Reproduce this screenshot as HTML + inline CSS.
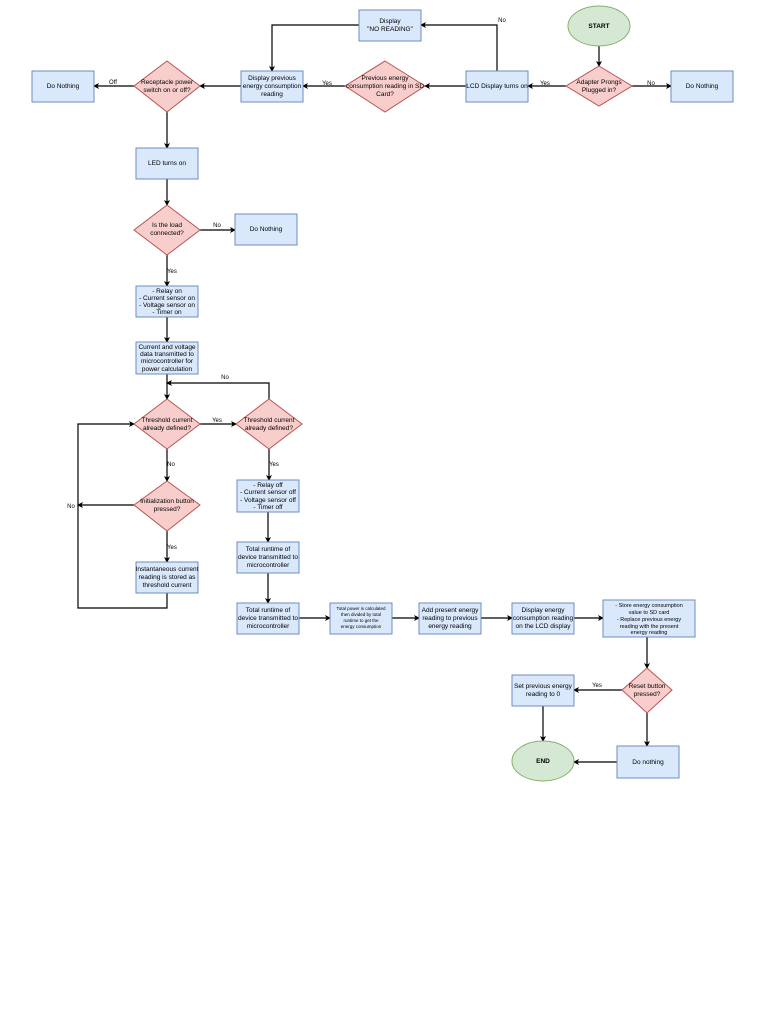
<!DOCTYPE html>
<html><head><meta charset="utf-8"><style>
html,body{margin:0;padding:0;background:#fff;}
svg{display:block;}
text{font-family:"Liberation Sans",Arial,sans-serif;font-size:6.5px;fill:#000;text-anchor:middle;}
.b{fill:#dae8fc;stroke:#6c8ebf;stroke-width:1;}
.d{fill:#f8cecc;stroke:#b85450;stroke-width:1;}
.e{fill:#d5e8d4;stroke:#82b366;stroke-width:1;}
.l{fill:none;stroke:#000;stroke-width:1.2;marker-end:url(#a);}
.lab{font-size:6px;}
</style></head><body>
<svg width="768" height="1024" viewBox="0 0 768 1024" xmlns="http://www.w3.org/2000/svg">
<defs><marker id="a" markerWidth="6" markerHeight="6" refX="5" refY="3" orient="auto" markerUnits="userSpaceOnUse"><path d="M0,0 L6,3 L0,6 L1.5,3 z" fill="#000"/></marker></defs>

<!-- connectors -->
<path class="l" d="M599,46 V66"/>
<path class="l" d="M632,86 H671"/>
<path class="l" d="M566,86 H528"/>
<path class="l" d="M466,86 H425"/>
<path class="l" d="M497,71 V25 H421"/>
<path class="l" d="M359,25 H272 V71"/>
<path class="l" d="M345,86 H303"/>
<path class="l" d="M241,86 H200"/>
<path class="l" d="M134,86 H94"/>
<path class="l" d="M167,112 V148"/>
<path class="l" d="M167,179 V205"/>
<path class="l" d="M200,230 H235"/>
<path class="l" d="M167,255 V286"/>
<path class="l" d="M167,317 V342"/>
<path class="l" d="M167,374 V399"/>
<path class="l" d="M200,424 H236"/>
<path class="l" d="M269,399 V383 H167"/>
<path class="l" d="M167,449 V481"/>
<path class="l" d="M134,505 H78"/>
<path class="l" d="M167,531 V562"/>
<path class="l" d="M167,593 V608 H78 V424 H134"/>
<path class="l" d="M269,449 V480"/>
<path class="l" d="M268,512 V542"/>
<path class="l" d="M268,573 V603"/>
<path class="l" d="M299,618 H330"/>
<path class="l" d="M392,618 H419"/>
<path class="l" d="M481,618 H512"/>
<path class="l" d="M574,618 H603"/>
<path class="l" d="M647,637 V668"/>
<path class="l" d="M622,690 H574"/>
<path class="l" d="M543,706 V741"/>
<path class="l" d="M647,713 V746"/>
<path class="l" d="M617,762 H574"/>

<!-- edge labels -->
<text class="lab" x="651" y="85">No</text>
<text class="lab" x="545" y="85">Yes</text>
<text class="lab" x="502" y="22">No</text>
<text class="lab" x="327" y="85">Yes</text>
<text class="lab" x="113" y="84">Off</text>
<text class="lab" x="217" y="227">No</text>
<text class="lab" x="172" y="273">Yes</text>
<text class="lab" x="217" y="422">Yes</text>
<text class="lab" x="225" y="379">No</text>
<text class="lab" x="171" y="466">No</text>
<text class="lab" x="71" y="508">No</text>
<text class="lab" x="172" y="549">Yes</text>
<text class="lab" x="274" y="466">Yes</text>
<text class="lab" x="597" y="687">Yes</text>

<!-- shapes -->
<ellipse class="e" cx="599" cy="26" rx="31" ry="20"/>
<text x="599" y="28" style="font-weight:bold">START</text>
<polygon class="d" points="599,66 632,86 599,106 566,86"/>
<text x="599" y="84">Adapter Prongs</text><text x="599" y="92">Plugged in?</text>
<rect class="b" x="671" y="71" width="62" height="31"/><text x="702" y="88">Do Nothing</text>
<rect class="b" x="466" y="71" width="62" height="31"/><text x="497" y="88">LCD Display turns on</text>
<polygon class="d" points="385,61 425,86 385,112 345,86"/>
<text x="385" y="80">Previous energy</text><text x="385" y="88">consumption reading in SD</text><text x="385" y="96">Card?</text>
<rect class="b" x="359" y="10" width="62" height="31"/><text x="390" y="23">Display</text><text x="390" y="31">"NO READING"</text>
<rect class="b" x="241" y="71" width="62" height="31"/><text x="272" y="80">Display previous</text><text x="272" y="88">energy consumption</text><text x="272" y="96">reading</text>
<polygon class="d" points="167,61 200,86 167,112 134,86"/>
<text x="167" y="84">Receptacle power</text><text x="167" y="92">switch on or off?</text>
<rect class="b" x="32" y="71" width="62" height="31"/><text x="63" y="88">Do Nothing</text>
<rect class="b" x="136" y="148" width="62" height="31"/><text x="167" y="165">LED turns on</text>
<polygon class="d" points="167,205 200,230 167,255 134,230"/>
<text x="167" y="227">Is the load</text><text x="167" y="235">connected?</text>
<rect class="b" x="235" y="214" width="62" height="31"/><text x="266" y="231">Do Nothing</text>
<rect class="b" x="136" y="286" width="62" height="31"/>
<text x="167" y="293">- Relay on</text><text x="167" y="300">- Current sensor on</text><text x="167" y="307">- Voltage sensor on</text><text x="167" y="314">- Timer on</text>
<rect class="b" x="136" y="342" width="62" height="32"/>
<text x="167" y="349">Current and voltage</text><text x="167" y="356">data transmitted to</text><text x="167" y="363">microcontroller for</text><text x="167" y="371">power calculation</text>
<polygon class="d" points="167,399 200,424 167,449 134,424"/>
<text x="167" y="422">Threshold current</text><text x="167" y="430">already defined?</text>
<polygon class="d" points="269,399 302,424 269,449 236,424"/>
<text x="269" y="422">Threshold current</text><text x="269" y="430">already defined?</text>
<polygon class="d" points="167,481 200,505 167,531 134,505"/>
<text x="167" y="503">Initialization button</text><text x="167" y="511">pressed?</text>
<rect class="b" x="136" y="562" width="62" height="31"/>
<text x="167" y="571">Instantaneous current</text><text x="167" y="579">reading is stored as</text><text x="167" y="587">threshold current</text>
<rect class="b" x="237" y="480" width="62" height="32"/>
<text x="268" y="487">- Relay off</text><text x="268" y="494">- Current sensor off</text><text x="268" y="502">- Voltage sensor off</text><text x="268" y="509">- Timer off</text>
<rect class="b" x="237" y="542" width="62" height="31"/>
<text x="268" y="551">Total runtime of</text><text x="268" y="559">device transmitted to</text><text x="268" y="567">microcontroller</text>
<rect class="b" x="237" y="603" width="62" height="31"/>
<text x="268" y="612">Total runtime of</text><text x="268" y="620">device transmitted to</text><text x="268" y="628">microcontroller</text>
<rect class="b" x="330" y="603" width="62" height="31"/>
<g style="font-size:4.5px"><text x="361" y="610" style="font-size:4.5px">Total power is calculated</text><text x="361" y="616" style="font-size:4.5px">then divided by total</text><text x="361" y="622" style="font-size:4.5px">runtime to get the</text><text x="361" y="628" style="font-size:4.5px">energy consumption</text></g>
<rect class="b" x="419" y="603" width="62" height="31"/>
<text x="450" y="612">Add present energy</text><text x="450" y="620">reading to previous</text><text x="450" y="628">energy reading</text>
<rect class="b" x="512" y="603" width="62" height="31"/>
<text x="543" y="612">Display energy</text><text x="543" y="620">consumption reading</text><text x="543" y="628">on the LCD display</text>
<rect class="b" x="603" y="600" width="92" height="37"/>
<g><text x="649" y="607" style="font-size:5.5px">- Store energy consumption</text><text x="649" y="614" style="font-size:5.5px">value to SD card</text><text x="649" y="621" style="font-size:5.5px">- Replace previous energy</text><text x="649" y="628" style="font-size:5.5px">reading with the present</text><text x="649" y="634" style="font-size:5.5px">energy reading</text></g>
<polygon class="d" points="647,668 672,690 647,713 622,690"/>
<text x="647" y="688">Reset button</text><text x="647" y="696">pressed?</text>
<rect class="b" x="512" y="675" width="62" height="31"/>
<text x="543" y="688">Set previous energy</text><text x="543" y="696">reading to 0</text>
<ellipse class="e" cx="543" cy="761" rx="31" ry="20"/>
<text x="543" y="763" style="font-weight:bold">END</text>
<rect class="b" x="617" y="746" width="62" height="32"/><text x="648" y="764">Do nothing</text>
</svg>
</body></html>
